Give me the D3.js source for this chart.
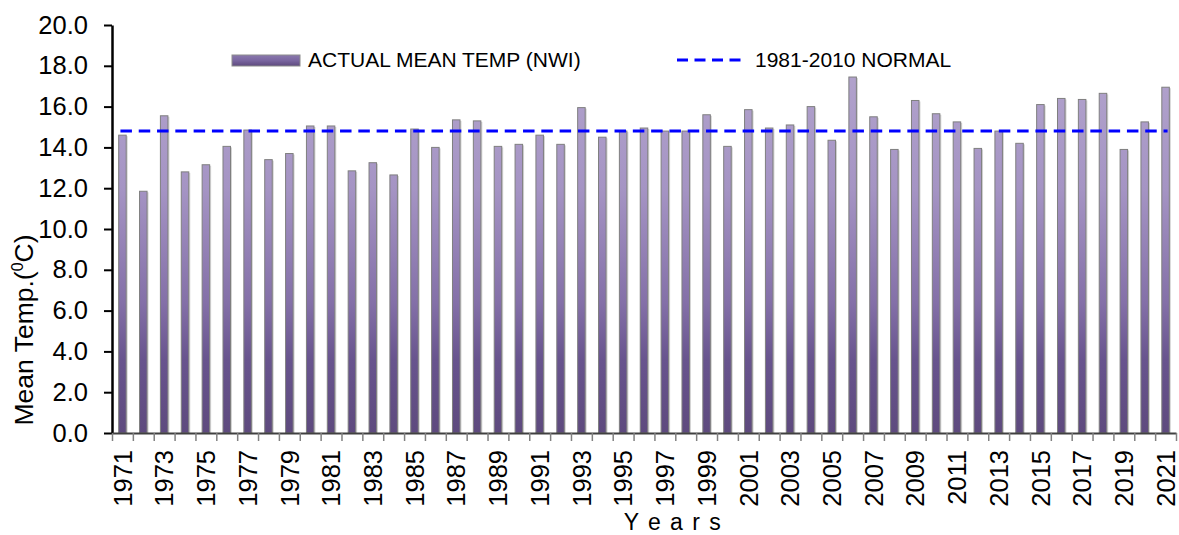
<!DOCTYPE html>
<html>
<head>
<meta charset="utf-8">
<script src="https://cdn.jsdelivr.net/npm/d3@7"></script>
<style>
  body { margin: 0; background: #fff; }
  text { font-family: 'Liberation Sans', Arial, sans-serif; fill: #000; }
</style>
</head>
<body>
<div id="chart"></div>
<script>
const WIDTH = 1179
const HEIGHT = 535
const PLOT = { left: 112, right: 1176, top: 25, bottom: 433 }

const years = [1971, 1972, 1973, 1974, 1975, 1976, 1977, 1978, 1979, 1980,
  1981, 1982, 1983, 1984, 1985, 1986, 1987, 1988, 1989, 1990,
  1991, 1992, 1993, 1994, 1995, 1996, 1997, 1998, 1999, 2000,
  2001, 2002, 2003, 2004, 2005, 2006, 2007, 2008, 2009, 2010,
  2011, 2012, 2013, 2014, 2015, 2016, 2017, 2018, 2019, 2020, 2021]

const meanTemp = [14.6, 11.85, 15.55, 12.8, 13.15, 14.05, 14.85, 13.4, 13.7, 15.05,
  15.05, 12.85, 13.25, 12.65, 14.9, 14.0, 15.35, 15.3, 14.05, 14.15,
  14.6, 14.15, 15.95, 14.5, 14.8, 14.95, 14.8, 14.8, 15.6, 14.05,
  15.85, 14.95, 15.1, 16.0, 14.35, 17.45, 15.5, 13.9, 16.3, 15.65,
  15.25, 13.95, 14.8, 14.2, 16.1, 16.4, 16.35, 16.65, 13.9, 15.25, 16.95]

const normalTemp = 14.8
const yTicks = [0, 2, 4, 6, 8, 10, 12, 14, 16, 18, 20]
const xLabelYears = years.filter(y => (y - 1971) % 2 === 0)

const data = years.map((y, i) => ({ year: y, value: meanTemp[i] }))

const svg = d3.select('#chart')
  .append('svg')
  .attr('width', WIDTH)
  .attr('height', HEIGHT)

const defs = svg.append('defs')

// bar fill: light lavender at top, dark purple toward the baseline
const grad = defs.append('linearGradient')
  .attr('id', 'barGrad')
  .attr('gradientUnits', 'userSpaceOnUse')
  .attr('x1', 0).attr('x2', 0)
  .attr('y1', PLOT.top).attr('y2', PLOT.bottom)
grad.append('stop').attr('offset', '0%').attr('stop-color', '#b6a8cf')
grad.append('stop').attr('offset', '40%').attr('stop-color', '#a594c4')
grad.append('stop').attr('offset', '68%').attr('stop-color', '#8470a8')
grad.append('stop').attr('offset', '82%').attr('stop-color', '#68548e')
grad.append('stop').attr('offset', '100%').attr('stop-color', '#5e4a7e')

const legGrad = defs.append('linearGradient')
  .attr('id', 'legGrad')
  .attr('x1', 0).attr('x2', 0).attr('y1', 0).attr('y2', 1)
legGrad.append('stop').attr('offset', '0%').attr('stop-color', '#8a78ad')
legGrad.append('stop').attr('offset', '50%').attr('stop-color', '#7a66a0')
legGrad.append('stop').attr('offset', '100%').attr('stop-color', '#5e4a7e')

// scales
const x = d3.scaleBand()
  .domain(years)
  .range([PLOT.left, PLOT.right])
  .paddingInner(0.64)
  .paddingOuter(0.32)

const xEdge = d3.scaleLinear()
  .domain([0, years.length])
  .range([PLOT.left, PLOT.right])

const y = d3.scaleLinear()
  .domain([0, 20])
  .range([PLOT.bottom, PLOT.top])

// bars: soft shadow, then the bar itself
const bars = svg.append('g').attr('class', 'bars')
bars.selectAll('rect.shadow')
  .data(data)
  .enter()
  .append('rect')
  .attr('class', 'shadow')
  .attr('x', d => x(d.year) + 1.5)
  .attr('y', d => y(d.value) + 1)
  .attr('width', x.bandwidth())
  .attr('height', d => y(0) - y(d.value) - 1)
  .attr('fill', '#d4d4d4')

bars.selectAll('rect.bar')
  .data(data)
  .enter()
  .append('rect')
  .attr('class', 'bar')
  .attr('x', d => x(d.year))
  .attr('y', d => y(d.value))
  .attr('width', x.bandwidth())
  .attr('height', d => y(0) - y(d.value))
  .attr('fill', 'url(#barGrad)')
  .attr('stroke', '#7f7f7f')
  .attr('stroke-width', 1)

// normal line
svg.append('line')
  .attr('x1', x(years[0]) + x.bandwidth() / 2 - 2)
  .attr('x2', x(years[years.length - 1]) + x.bandwidth() / 2 + 2)
  .attr('y1', y(normalTemp))
  .attr('y2', y(normalTemp))
  .attr('stroke', '#0000ff')
  .attr('stroke-width', 3)
  .attr('stroke-dasharray', '11.5,6.8')

// y axis
const yAxis = svg.append('g')
  .attr('transform', 'translate(' + PLOT.left + ',0)')
  .call(d3.axisLeft(y).tickValues(yTicks).tickFormat(d3.format('.1f')).tickSize(8).tickPadding(16).tickSizeOuter(0))
yAxis.select('.domain').attr('stroke', '#000').attr('stroke-width', 2.5)
yAxis.selectAll('.tick line').attr('stroke', '#000').attr('stroke-width', 2)
yAxis.selectAll('.tick text')
  .style('font-family', "'Liberation Sans', Arial, sans-serif")
  .style('font-size', '25.5px')
  .attr('fill', '#000')

// x axis: ticks on category edges
const xAxis = svg.append('g')
  .attr('transform', 'translate(0,' + PLOT.bottom + ')')
  .call(d3.axisBottom(xEdge).tickValues(d3.range(years.length + 1)).tickFormat('').tickSize(8).tickSizeOuter(0))
xAxis.select('.domain').attr('stroke', '#404040').attr('stroke-width', 2)
xAxis.selectAll('.tick line').attr('stroke', '#808080').attr('stroke-width', 1.5)

// x labels, every other year, rotated
const xLabels = svg.append('g')
  .attr('transform', 'translate(0,' + PLOT.bottom + ')')
  .call(d3.axisBottom(x).tickValues(xLabelYears).tickSize(0).tickPadding(0))
xLabels.select('.domain').remove()
xLabels.selectAll('.tick text')
  .style('font-family', "'Liberation Sans', Arial, sans-serif")
  .style('font-size', '25.5px')
  .attr('fill', '#000')
  .attr('text-anchor', 'end')
  .attr('transform', 'rotate(-90)')
  .attr('x', -17)
  .attr('y', 0)
  .attr('dy', '0.36em')

// axis titles
const yTitle = svg.append('text')
  .attr('transform', 'translate(33,' + 330 + ') rotate(-90)')
  .attr('text-anchor', 'middle')
  .style('font-size', '26.5px')
yTitle.append('tspan').text('Mean Temp.(')
yTitle.append('tspan').text('0').style('font-size', '16px').attr('dy', -10)
yTitle.append('tspan').text('C)').attr('dy', 10)

svg.append('text')
  .attr('x', 673)
  .attr('y', 530)
  .attr('text-anchor', 'middle')
  .style('font-size', '23px')
  .style('letter-spacing', '1.5px')
  .text('Y e a r s')

// legend
const legend = svg.append('g').attr('class', 'legend')
legend.append('rect')
  .attr('x', 232)
  .attr('y', 55)
  .attr('width', 68)
  .attr('height', 11)
  .attr('fill', 'url(#legGrad)')
  .attr('stroke', '#8c8c8c')
  .attr('stroke-width', 1)
legend.append('text')
  .attr('x', 308)
  .attr('y', 66.5)
  .style('font-size', '21px')
  .text('ACTUAL MEAN TEMP (NWI)')
legend.append('line')
  .attr('x1', 677)
  .attr('x2', 742)
  .attr('y1', 60)
  .attr('y2', 60)
  .attr('stroke', '#0000ff')
  .attr('stroke-width', 3)
  .attr('stroke-dasharray', '11,6.5')
legend.append('text')
  .attr('x', 755)
  .attr('y', 66.5)
  .style('font-size', '21px')
  .text('1981-2010 NORMAL')
</script>
</body>
</html>
